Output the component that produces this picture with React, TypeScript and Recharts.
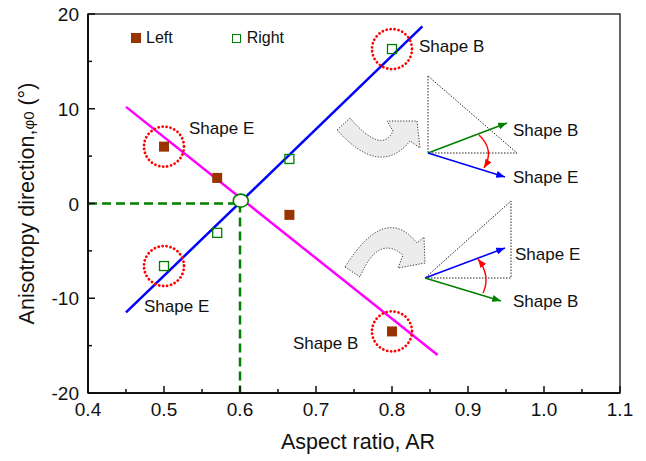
import React from "react";
import {
  ScatterChart,
  Scatter,
  XAxis,
  YAxis,
  ReferenceLine,
  ReferenceDot,
  ReferenceArea,
  Legend,
  Label,
} from "recharts";

const FONT = "'Liberation Sans', Arial, Helvetica, sans-serif";
const INK = "#111";

// axis ticks (minor ticks every half step, labels only on the major ones)
const xTicks = [0.4, 0.45, 0.5, 0.55, 0.6, 0.65, 0.7, 0.75, 0.8, 0.85, 0.9, 0.95, 1.0, 1.05, 1.1];
const yTicks = [-20, -15, -10, -5, 0, 5, 10, 15, 20];

// measured anisotropy direction vs aspect ratio
const leftPts = [
  { x: 0.5, y: 6.0 },
  { x: 0.57, y: 2.7 },
  { x: 0.665, y: -1.2 },
  { x: 0.8, y: -13.5 },
];
const rightPts = [
  { x: 0.5, y: -6.6 },
  { x: 0.57, y: -3.1 },
  { x: 0.665, y: 4.7 },
  { x: 0.8, y: 16.3 },
];

// linear fits
const rightFit = [
  { x: 0.45, y: -11.5 },
  { x: 0.84, y: 18.7 },
];
const leftFit = [
  { x: 0.45, y: 10.2 },
  { x: 0.86, y: -16.0 },
];

// where the two fits cross, and the shapes that get circled
const crossing = { x: 0.601, y: 0.3 };
const highlighted = [
  { x: 0.5, y: 6.0 },
  { x: 0.5, y: -6.6 },
  { x: 0.8, y: 16.3 },
  { x: 0.8, y: -13.5 },
];

const isMajor = (v: number, step: number) => Math.abs(v / step - Math.round(v / step)) < 1e-6;

const XTick = (props: any) => {
  const { x, y, payload } = props;
  const v = payload.value as number;
  const major = isMajor(v, 0.1);
  return (
    <g>
      <line x1={x} x2={x} y1={y} y2={y - (major ? 7 : 4)} stroke={INK} strokeWidth={1.5} />
      {major && (
        <text x={x} y={y + 23} textAnchor="middle" fontSize={19} fontFamily={FONT} fill={INK}>
          {v.toFixed(1)}
        </text>
      )}
    </g>
  );
};

const YTick = (props: any) => {
  const { x, y, payload } = props;
  const v = payload.value as number;
  const major = isMajor(v, 10);
  return (
    <g>
      <line x1={x} x2={x + (major ? 7 : 4)} y1={y} y2={y} stroke={INK} strokeWidth={1.5} />
      {major && (
        <text x={x - 9} y={y + 7} textAnchor="end" fontSize={19} fontFamily={FONT} fill={INK}>
          {v}
        </text>
      )}
    </g>
  );
};

const YTitle = (props: any) => {
  const vb = props.viewBox || { y: 14, height: 379 };
  const cy = vb.y + vb.height / 2;
  return (
    <text
      transform={`translate(34,${cy}) rotate(-90)`}
      textAnchor="middle"
      fontSize={21.5}
      fontFamily={FONT}
      fill={INK}
    >
      Anisotropy direction,<tspan fontSize={15}>φ0</tspan> (°)
    </text>
  );
};

const XTitle = () => (
  <text x={358} y={449} textAnchor="middle" fontSize={21.5} fontFamily={FONT} fill={INK}>
    Aspect ratio, AR
  </text>
);

const FilledSquare = (p: any) => (
  <rect x={p.cx - 5} y={p.cy - 5} width={10} height={10} fill="#993300" />
);
const OpenSquare = (p: any) => (
  <rect x={p.cx - 4.5} y={p.cy - 4.5} width={9} height={9} fill="none" stroke="#008000" strokeWidth={1.3} />
);
const NoMark = () => <g />;

const DottedRing = (p: any) => (
  <circle
    cx={p.cx}
    cy={p.cy}
    r={20}
    fill="none"
    stroke="#ff0000"
    strokeWidth={2.8}
    strokeDasharray="0.01 4"
    strokeLinecap="round"
  />
);

const CrossMark = (p: any) => (
  <ellipse cx={p.cx} cy={p.cy} rx={7.5} ry={6.5} fill="#fff" stroke="#008000" strokeWidth={1.6} />
);

const LegendBox = () => (
  <div style={{ display: "flex", alignItems: "center", fontFamily: FONT, fontSize: 16, lineHeight: "16px", color: INK }}>
    <span style={{ width: 10, height: 10, background: "#993300", display: "inline-block" }} />
    <span style={{ marginLeft: 5 }}>Left</span>
    <span
      style={{
        width: 7,
        height: 7,
        border: "1.3px solid #008000",
        display: "inline-block",
        marginLeft: 59,
      }}
    />
    <span style={{ marginLeft: 6 }}>Right</span>
  </div>
);

// sketches of the two shapes with their rotation arrows
const Insets = () => {
  const gray = { fill: "#ececec", stroke: "#333", strokeWidth: 1, strokeDasharray: "1.2 1.6" };
  const tri = { fill: "none", stroke: "#222", strokeWidth: 1, strokeDasharray: "1.5 1.5" };
  const txt = { fontSize: 17, fontFamily: FONT, fill: INK };
  return (
    <svg
      width={646}
      height={461}
      style={{ position: "absolute", left: 0, top: 0, pointerEvents: "none" }}
    >
      <defs>
        {[
          ["ah-green", "#008000"],
          ["ah-blue", "#0000ff"],
          ["ah-red", "#ff0000"],
        ].map(([id, c]) => (
          <marker
            key={id}
            id={id}
            viewBox="0 0 10 8"
            refX={10}
            refY={4}
            markerWidth={9}
            markerHeight={7}
            markerUnits="userSpaceOnUse"
            orient="auto"
          >
            <path d="M0,0 L10,4 L0,8 z" fill={c} />
          </marker>
        ))}
      </defs>

      <text x={189} y={134} {...txt}>Shape E</text>
      <text x={144} y={312} {...txt}>Shape E</text>
      <text x={419} y={52} {...txt}>Shape B</text>
      <text x={293} y={349} {...txt}>Shape B</text>

      {/* upper sketch */}
      <path d="M337,130 L350,118 Q382,155 393,131 L387,121 L417,121 L420,148 L410,141 Q380,178 337,130 Z" {...gray} />
      <polygon points="428,76 428,153 517,153" {...tri} />
      <line x1={428} y1={153} x2={507} y2={123} stroke="#008000" strokeWidth={1.6} markerEnd="url(#ah-green)" />
      <line x1={428} y1={153} x2={505} y2={177} stroke="#0000ff" strokeWidth={1.6} markerEnd="url(#ah-blue)" />
      <path d="M479,135 Q495,150 484,168" fill="none" stroke="#ff0000" strokeWidth={1.4} markerEnd="url(#ah-red)" />
      <text x={513} y={136} {...txt}>Shape B</text>
      <text x={513} y={183} {...txt}>Shape E</text>

      {/* lower sketch */}
      <path d="M345,267 L360,277 Q378,234 403,255 L398,268 L425,263 L424,237 L417,243 Q385,203 345,267 Z" {...gray} />
      <polygon points="425,278 511,278 511,201" {...tri} />
      <line x1={425} y1={278} x2={505} y2={248} stroke="#0000ff" strokeWidth={1.6} markerEnd="url(#ah-blue)" />
      <line x1={425} y1={278} x2={501} y2={301} stroke="#008000" strokeWidth={1.6} markerEnd="url(#ah-green)" />
      <path d="M483,293 Q491,276 478,259" fill="none" stroke="#ff0000" strokeWidth={1.4} markerEnd="url(#ah-red)" />
      <text x={515} y={260} {...txt}>Shape E</text>
      <text x={513} y={307} {...txt}>Shape B</text>
    </svg>
  );
};

export default function App() {
  return (
    <div style={{ position: "absolute", left: 0, top: 0, width: 646, height: 461, background: "#fff" }}>
      <ScatterChart width={646} height={461} margin={{ top: 14, right: 26, bottom: 0, left: 0 }}>
        <XAxis
          type="number"
          dataKey="x"
          domain={[0.4, 1.1]}
          ticks={xTicks}
          interval={0}
          height={68}
          tickLine={false}
          tickSize={0}
          tickMargin={0}
          tick={<XTick />}
          axisLine={{ stroke: INK, strokeWidth: 2 }}
          allowDataOverflow
        >
          <Label content={<XTitle />} />
        </XAxis>
        <YAxis
          type="number"
          dataKey="y"
          domain={[-20, 20]}
          ticks={yTicks}
          interval={0}
          width={88}
          tickLine={false}
          tickSize={0}
          tickMargin={0}
          tick={<YTick />}
          axisLine={{ stroke: INK, strokeWidth: 2 }}
          allowDataOverflow
        >
          <Label content={<YTitle />} />
        </YAxis>

        <ReferenceArea x1={0.4} x2={1.1} y1={-20} y2={20} fill="none" stroke="#333" strokeWidth={1.5} />

        <ReferenceLine
          segment={[
            { x: 0.4, y: 0 },
            { x: crossing.x, y: 0 },
          ]}
          stroke="#008000"
          strokeWidth={2.5}
          strokeDasharray="9 5"
        />
        <ReferenceLine
          segment={[
            { x: 0.6, y: 0 },
            { x: 0.6, y: -20 },
          ]}
          stroke="#008000"
          strokeWidth={2.5}
          strokeDasharray="9 5"
        />

        <Legend
          layout="horizontal"
          verticalAlign="middle"
          align="center"
          content={<LegendBox />}
          wrapperStyle={{ left: 131, top: 30, width: 200 }}
        />

        <Scatter data={rightFit} shape={NoMark} line={{ stroke: "#0000ff", strokeWidth: 2.5 }} isAnimationActive={false} legendType="none" />
        <Scatter data={leftFit} shape={NoMark} line={{ stroke: "#ff00ff", strokeWidth: 2.5 }} isAnimationActive={false} legendType="none" />

        {highlighted.map((p, i) => (
          <ReferenceDot key={i} x={p.x} y={p.y} r={20} shape={DottedRing} />
        ))}

        <Scatter name="Left" data={leftPts} shape={FilledSquare} isAnimationActive={false} />
        <Scatter name="Right" data={rightPts} shape={OpenSquare} isAnimationActive={false} />

        <ReferenceDot x={crossing.x} y={crossing.y} r={7} shape={CrossMark} />
      </ScatterChart>
      <Insets />
    </div>
  );
}
